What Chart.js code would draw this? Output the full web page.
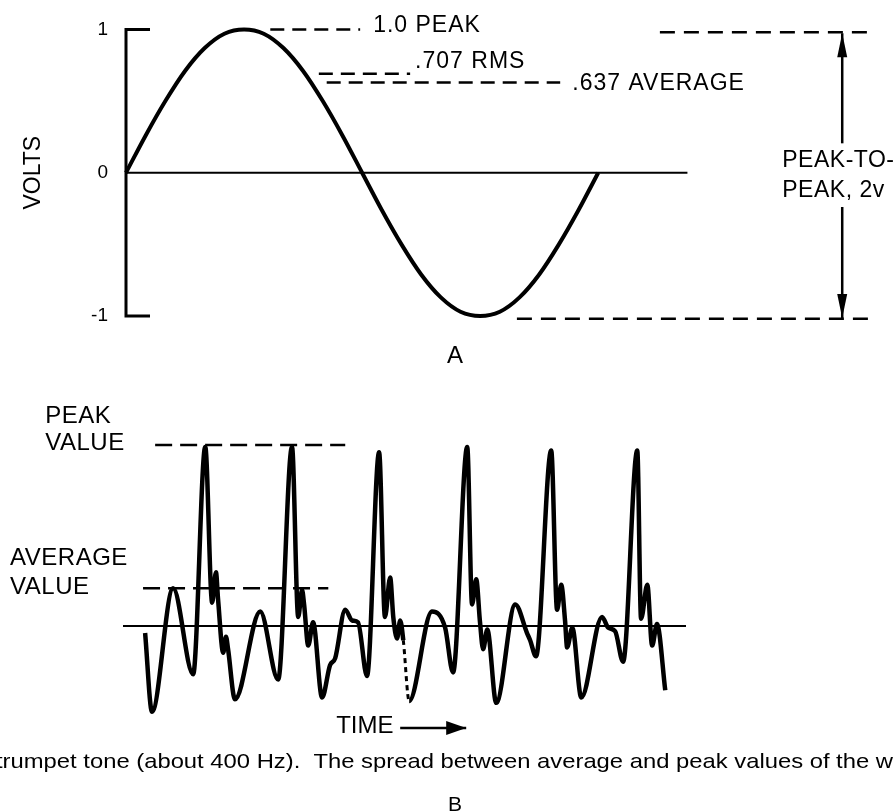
<!DOCTYPE html>
<html>
<head>
<meta charset="utf-8">
<title>Sine wave values and trumpet tone</title>
<script src="https://cdn.jsdelivr.net/npm/chart.js@4.4.1/dist/chart.umd.min.js"></script>
<style>
  html, body { margin: 0; padding: 0; background: #fff; }
  canvas { display: block; }
</style>
</head>
<body>
<canvas id="sine-chart" width="896" height="370"></canvas>
<canvas id="trumpet-chart" width="896" height="442"></canvas>
<script>
// ---------- A: one cycle of a 1 V sine wave (x = degrees, y = volts) ----------
const sineDeg   = [0, 15, 30, 45, 60, 75, 90, 105, 120, 135, 150, 165, 180,
                   195, 210, 225, 240, 255, 270, 285, 300, 315, 330, 345, 360];
const sineVolts = [0, 0.26, 0.5, 0.71, 0.87, 0.97, 1, 0.97, 0.87, 0.71, 0.5, 0.26, 0,
                   -0.26, -0.5, -0.71, -0.87, -0.97, -1, -0.97, -0.87, -0.71, -0.5, -0.26, 0];
const voltTicks = [-1, 0, 1];
const zeroLineDeg = [0, 428];
const bracketDeg = [18.3, 0, 0, 18.3];
const bracketVolts = [1, 1, -1, -1];

// peak / rms / average marker lines
const levelNames = ['1.0 PEAK', '.707 RMS', '.637 AVERAGE'];
const levelVolts = [1.0, 0.69, 0.63];
const levelFromDeg = [110, 147, 153];
const levelToDeg = [178.5, 216.6, 331];

// peak-to-peak span on the right
const spanNames = ['PEAK-TO-', 'PEAK, 2v'];
const spanTopDeg = [407, 570];
const spanBottomDeg = [298, 568];
const spanVolts = [0.98, -1.02];
const arrowDeg = 546;
const arrowUpVolts = [0.205, 0.973];
const arrowDownVolts = [-0.24, -1.014];

// ---------- B: trumpet tone, about 400 Hz (x = ms, y = relative level) ----------
const trumpetMs = [0, 0.20, 0.81, 1.39, 1.74, 1.94, 2.05, 2.11, 2.26, 2.34, 2.40, 2.60,
                   3.33, 3.85, 4.25, 4.43, 4.54, 4.60, 4.72, 4.86, 5.12, 5.35, 5.50, 5.79,
                   5.99, 6.16, 6.42, 6.77, 6.94, 7.09, 7.18, 7.29, 7.38, 7.47, 7.64,
                   8.30, 8.68, 8.91, 9.32, 9.46, 9.58, 9.69, 9.78, 9.90, 10.16,
                   10.71, 11.05, 11.14, 11.31, 11.75, 11.92, 12.04, 12.15, 12.21, 12.36, 12.62,
                   13.22, 13.40, 13.60, 13.83, 14.24, 14.35, 14.53, 14.67, 14.81, 15.05];
const trumpetLevel = [-0.04, -0.48, 0.21, -0.27, 1.00, 0.13, 0.30, 0.15, -0.15, -0.06, -0.13, -0.41,
                      0.08, -0.30, 1.00, 0.05, 0.20, 0.12, -0.11, 0.02, -0.40, -0.22, -0.18, 0.09,
                      0.03, 0.02, -0.28, 0.97, 0.05, 0.27, 0.05, -0.07, 0.03, -0.08, -0.42,
                      0.08, -0.01, -0.26, 1.00, 0.12, 0.26, 0.02, -0.13, -0.02, -0.43,
                      0.12, -0.04, -0.08, -0.17, 0.98, 0.09, 0.23, 0.03, -0.12, -0.01, -0.40,
                      0.05, -0.01, -0.03, -0.20, 0.98, 0.04, 0.23, -0.11, 0.01, -0.36];
const dottedFrom = 33; // the short dotted piece of the trace
const baselineMs = [-0.64, 15.65];
const peakLevel = 1.01;
const peakDashMs = [0.29, 5.79];
const avgLevel = 0.21;
const avgDashMs = [-0.06, 5.30];
const timeArrowMs = [7.38, 9.29];
const timeArrowLevel = -0.57;
const trumpetNames = ['PEAK', 'VALUE', 'AVERAGE', 'VALUE', 'TIME'];
const captionText = 'trumpet tone (about 400 Hz).  The spread between average and peak values of the w';

const FONT = "'Liberation Sans', Arial, Helvetica, sans-serif";
const pts = (xs, ys) => xs.map((x, i) => ({ x: x, y: Array.isArray(ys) ? ys[i] : ys }));

// draws the text notes and arrow heads
const notesPlugin = {
  id: 'notes',
  afterDatasetsDraw(chart, args, opts) {
    const ctx = chart.ctx;
    const xs = chart.scales.x, ys = chart.scales.y;
    ctx.save();
    ctx.fillStyle = '#000';
    ctx.textBaseline = 'middle';
    (opts.items || []).forEach(it => {
      ctx.font = it.font;
      ctx.letterSpacing = it.spacing || '0px';
      ctx.textAlign = it.align || 'left';
      const px = it.px !== undefined ? it.px : xs.getPixelForValue(it.x);
      const py = it.py !== undefined ? it.py : ys.getPixelForValue(it.y);
      if (it.fitWidth) {
        const w = ctx.measureText(it.text).width;
        ctx.save();
        ctx.translate(px, py);
        ctx.scale(it.fitWidth / w, 1);
        ctx.fillText(it.text, 0, 0);
        ctx.restore();
      } else {
        ctx.fillText(it.text, px, py);
      }
    });
    ctx.letterSpacing = '0px';
    chart.data.datasets.forEach((ds, i) => {
      if (!ds.arrowHead) return;
      const el = chart.getDatasetMeta(i).data;
      const a = el[el.length - 2], b = el[el.length - 1];
      const ang = Math.atan2(b.y - a.y, b.x - a.x);
      ctx.save();
      ctx.translate(b.x, b.y);
      ctx.rotate(ang);
      ctx.beginPath();
      ctx.moveTo(0, 0);
      ctx.lineTo(-ds.arrowHead.length, -ds.arrowHead.width / 2);
      ctx.lineTo(-ds.arrowHead.length, ds.arrowHead.width / 2);
      ctx.closePath();
      ctx.fill();
      ctx.restore();
    });
    ctx.restore();
  }
};

const line = (data, extra) => Object.assign({
  data: data, showLine: true, borderColor: '#000', borderWidth: 2.5,
  pointRadius: 0, fill: false, tension: 0
}, extra || {});

const baseOptions = (padding) => ({
  responsive: false,
  animation: false,
  devicePixelRatio: 1,
  layout: { padding: padding },
  clip: false
});

// ---------- chart A ----------
const optsA = baseOptions({ top: 24, bottom: 54, left: 0, right: 0 });
optsA.plugins = {
  legend: { display: false },
  tooltip: { enabled: false },
  notes: {
    items: [
      { text: levelNames[0], x: 188.4, y: 1.027, font: '23px ' + FONT, spacing: '1px' },
      { text: levelNames[1], x: 220.4, y: 0.774, font: '23px ' + FONT, spacing: '1px' },
      { text: levelNames[2], x: 340.2, y: 0.623, font: '23px ' + FONT, spacing: '1px' },
      { text: spanNames[0], x: 500.3, y: 0.082, font: '23px ' + FONT, spacing: '0.5px' },
      { text: spanNames[1], x: 500.3, y: -0.123, font: '23px ' + FONT, spacing: '0.5px' },
      { text: 'A', px: 455, py: 356, align: 'center', font: '24px ' + FONT }
    ]
  }
};
optsA.scales = {
  x: { type: 'linear', display: false, min: 0, max: 587 },
  y: {
    type: 'linear', min: -1, max: 1,
    afterBuildTicks: s => { s.ticks = voltTicks.map(v => ({ value: v })); },
    afterFit: s => { s.width = 126; },
    grid: { display: false, drawTicks: false },
    border: { display: false },
    ticks: { color: '#000', font: { family: FONT, size: 19 }, padding: 18 },
    title: { display: true, text: 'VOLTS', color: '#000', font: { family: FONT, size: 23 }, padding: { top: 20 } }
  }
};

new Chart(document.getElementById('sine-chart'), {
  type: 'scatter',
  data: {
    datasets: [
      line(pts(sineDeg, sineVolts), { borderWidth: 4, cubicInterpolationMode: 'monotone' }),
      line(pts(zeroLineDeg, 0), { borderWidth: 2 }),
      line(pts(bracketDeg, bracketVolts), { borderWidth: 3 }),
      line(pts([levelFromDeg[0], levelToDeg[0]], levelVolts[0]), { borderDash: [14, 8] }),
      line(pts([levelFromDeg[1], levelToDeg[1]], levelVolts[1]), { borderDash: [14, 8] }),
      line(pts([levelFromDeg[2], levelToDeg[2]], levelVolts[2]), { borderDash: [14, 8] }),
      line(pts(spanTopDeg, spanVolts[0]), { borderDash: [15, 9] }),
      line(pts(spanBottomDeg, spanVolts[1]), { borderDash: [15, 9] }),
      line(pts([arrowDeg, arrowDeg], arrowUpVolts), { arrowHead: { length: 24, width: 10 } }),
      line(pts([arrowDeg, arrowDeg], arrowDownVolts), { arrowHead: { length: 24, width: 10 } })
    ]
  },
  options: optsA,
  plugins: [notesPlugin]
});

// ---------- chart B ----------
const optsB = baseOptions({ top: 59, bottom: 60.8, left: 123, right: 210 });
optsB.plugins = {
  legend: { display: false },
  tooltip: { enabled: false },
  notes: {
    items: [
      { text: trumpetNames[0], x: -2.89, y: 1.173, font: '24px ' + FONT, spacing: '0.5px' },
      { text: trumpetNames[1], x: -2.89, y: 1.017, font: '24px ' + FONT, spacing: '0.5px' },
      { text: trumpetNames[2], x: -3.906, y: 0.380, font: '24px ' + FONT, spacing: '0.5px' },
      { text: trumpetNames[3], x: -3.906, y: 0.218, font: '24px ' + FONT, spacing: '0.5px' },
      { text: trumpetNames[4], x: 5.527, y: -0.559, font: '24px ' + FONT },
      { text: captionText, px: -4, py: 392, font: '21px ' + FONT, fitWidth: 897 },
      { text: 'B', px: 455, py: 435, align: 'center', font: '21px ' + FONT }
    ]
  }
};
optsB.scales = {
  x: { type: 'linear', display: false, min: -0.64, max: 15.65 },
  y: { type: 'linear', display: false, min: -0.7, max: 1.1 }
};

new Chart(document.getElementById('trumpet-chart'), {
  type: 'scatter',
  data: {
    datasets: [
      line(pts(trumpetMs, trumpetLevel), {
        borderWidth: 4.5,
        cubicInterpolationMode: 'monotone',
        segment: {
          borderDash: c => c.p0DataIndex === dottedFrom ? [5, 4] : undefined,
          borderWidth: c => c.p0DataIndex === dottedFrom ? 3 : undefined
        }
      }),
      line(pts(baselineMs, 0), { borderWidth: 2 }),
      line(pts(peakDashMs, peakLevel), { borderDash: [17, 8] }),
      line(pts(avgDashMs, avgLevel), { borderDash: [17, 8] }),
      line(pts(timeArrowMs, timeArrowLevel), { borderWidth: 2.5, arrowHead: { length: 20, width: 14 } })
    ]
  },
  options: optsB,
  plugins: [notesPlugin]
});
</script>
</body>
</html>
